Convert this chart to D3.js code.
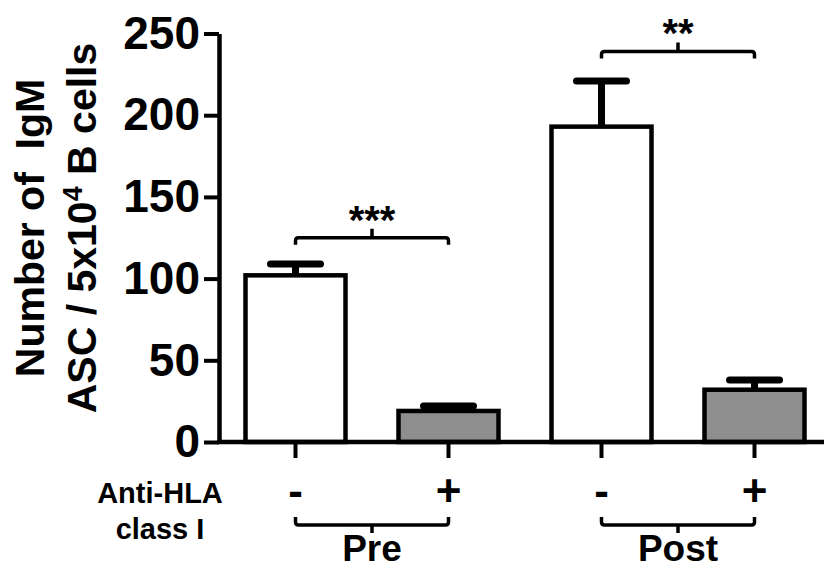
<!DOCTYPE html>
<html>
<head>
<meta charset="utf-8">
<script src="https://cdn.jsdelivr.net/npm/d3@7"></script>
<style>
  body { margin: 0; background: #fff; }
  text { font-family: "Liberation Sans", Arial, Helvetica, sans-serif; font-weight: bold; fill: #000; }
</style>
</head>
<body>
<div id="graph"></div>
<script>
// Données
const groups = ["Pre", "Pre", "Post", "Post"];
const treatment = ["-", "+", "-", "+"];
const means = [102, 19, 193, 32];
const sems = [7, 3, 28, 6];
const fills = ["#ffffff", "#8e8e8e", "#ffffff", "#8e8e8e"];
const yTicks = [0, 50, 100, 150, 200, 250];

// Comparaisons (indices des barres, niveau du crochet)
const compFrom = [0, 2];
const compTo = [1, 3];
const compLevel = [125, 239];
const compLabel = ["***", "**"];

const groupNames = ["Pre", "Post"];

const W = 824, H = 570;
const x0 = 219, x1 = 831;
const yBottom = 442, yTop = 33.5;

const svg = d3.select("#graph")
  .append("svg")
  .attr("width", W)
  .attr("height", H);

svg.append("rect").attr("width", W).attr("height", H).attr("fill", "#fff");

const idx = means.map((d, i) => i);

// Échelles
const xScale = d3.scalePoint().domain(idx).range([x0, x1]).padding(0.5);
const yScale = d3.scaleLinear().domain([0, 250]).range([yBottom, yTop]);
const barW = 100;

// Barres
svg.selectAll(".bar")
  .data(idx)
  .enter()
  .append("rect")
  .attr("class", "bar")
  .attr("x", i => xScale(i) - barW / 2)
  .attr("y", i => yScale(means[i]))
  .attr("width", barW)
  .attr("height", i => yScale(0) - yScale(means[i]))
  .attr("fill", i => fills[i])
  .attr("stroke", "#000")
  .attr("stroke-width", 4.5);

// Barres d'erreur (côté supérieur seulement)
const err = svg.append("g").attr("stroke", "#000").attr("stroke-linecap", "round");
idx.forEach(i => {
  const cx = xScale(i);
  err.append("line")
    .attr("x1", cx).attr("x2", cx)
    .attr("y1", yScale(means[i])).attr("y2", yScale(means[i] + sems[i]))
    .attr("stroke-width", 7).attr("stroke-linecap", "butt");
  err.append("line")
    .attr("x1", cx - 25).attr("x2", cx + 25)
    .attr("y1", yScale(means[i] + sems[i])).attr("y2", yScale(means[i] + sems[i]))
    .attr("stroke-width", 7);
});

// Axe Y
const yAxis = svg.append("g")
  .attr("transform", `translate(${x0},0)`)
  .call(d3.axisLeft(yScale).tickValues(yTicks).tickSize(15).tickSizeOuter(0).tickPadding(4));
yAxis.select(".domain").attr("stroke-width", 4.5);
yAxis.selectAll(".tick line").attr("stroke-width", 4);
yAxis.selectAll(".tick text")
  .style("font-size", "46px")
  .attr("fill", "#000");

// Axe X
svg.append("line")
  .attr("x1", x0 - 2).attr("x2", W + 10)
  .attr("y1", yScale(0)).attr("y2", yScale(0))
  .attr("stroke", "#000").attr("stroke-width", 4.5);

svg.selectAll(".xtick")
  .data(idx)
  .enter()
  .append("line")
  .attr("x1", i => xScale(i)).attr("x2", i => xScale(i))
  .attr("y1", yScale(0)).attr("y2", yScale(0) + 16)
  .attr("stroke", "#000").attr("stroke-width", 4);

svg.selectAll(".xlab")
  .data(idx)
  .enter()
  .append("text")
  .attr("x", i => xScale(i))
  .attr("y", 506)
  .attr("text-anchor", "middle")
  .style("font-size", "44px")
  .text(i => treatment[i]);

// Libellé du traitement
const trt = svg.append("text")
  .attr("text-anchor", "middle")
  .style("font-size", "29px");
trt.append("tspan").attr("x", 160).attr("y", 503).text("Anti-HLA");
trt.append("tspan").attr("x", 160).attr("y", 539).text("class I");

// Crochets de groupe (sous l'axe)
groupNames.forEach(g => {
  const members = idx.filter(i => groups[i] === g);
  const a = xScale(members[0]), b = xScale(members[members.length - 1]);
  const yb = 525;
  svg.append("path")
    .attr("d", `M${a},${yb - 8} V${yb - 3} Q${a},${yb} ${a + 3},${yb} H${b - 3} Q${b},${yb} ${b},${yb - 3} V${yb - 8} M${(a + b) / 2},${yb} V${yb + 8}`)
    .attr("fill", "none").attr("stroke", "#000").attr("stroke-width", 3.5);
  svg.append("text")
    .attr("x", (a + b) / 2)
    .attr("y", 561)
    .attr("text-anchor", "middle")
    .style("font-size", "37px")
    .text(g);
});

// Crochets de significativité
compFrom.forEach((f, k) => {
  const a = xScale(f), b = xScale(compTo[k]);
  const yb = yScale(compLevel[k]);
  svg.append("path")
    .attr("d", `M${a},${yb + 7} V${yb + 3} Q${a},${yb} ${a + 3},${yb} H${b - 3} Q${b},${yb} ${b},${yb + 3} V${yb + 7} M${(a + b) / 2},${yb} V${yb - 9}`)
    .attr("fill", "none").attr("stroke", "#000").attr("stroke-width", 3.5);
  svg.append("text")
    .attr("x", (a + b) / 2)
    .attr("y", yb - 4)
    .attr("text-anchor", "middle")
    .style("font-size", "40px")
    .text(compLabel[k]);
});

// Titre de l'axe Y
svg.append("text")
  .attr("transform", "translate(44,228) rotate(-90)")
  .attr("text-anchor", "middle")
  .style("font-size", "41px")
  .style("white-space", "pre")
  .text("Number of  IgM");

const yt2 = svg.append("text")
  .attr("transform", "translate(96,228) rotate(-90)")
  .attr("text-anchor", "middle")
  .style("font-size", "41px");
yt2.append("tspan").text("ASC / 5x10");
yt2.append("tspan").attr("dy", -14).style("font-size", "27px").text("4");
yt2.append("tspan").attr("dy", 14).text(" B cells");
</script>
</body>
</html>
